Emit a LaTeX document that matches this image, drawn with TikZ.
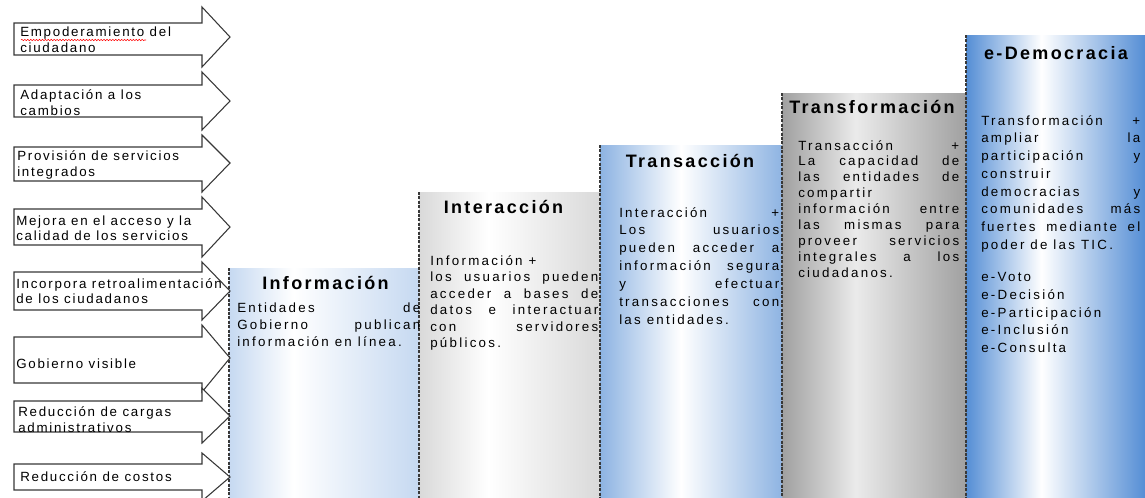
\documentclass[tikz,border=0pt]{standalone}
\usepackage{fontspec}
\setmainfont{Liberation Sans}
\newfontfamily\arrowfont[LetterSpace=13]{Liberation Sans}
\newfontfamily\bodyfont[LetterSpace=17]{Liberation Sans}
\newfontfamily\titlefont[LetterSpace=13]{Liberation Sans}
\usetikzlibrary{decorations.pathmorphing}
\setlength{\parindent}{0pt}
\hyphenpenalty=10000
\exhyphenpenalty=10000
\hbadness=10000

\definecolor{infoblue}{HTML}{C6D9F1}
\definecolor{intergray}{HTML}{D9D9D9}
\definecolor{transblue}{HTML}{8DB3E2}
\definecolor{transfgray}{HTML}{A0A0A0}
\definecolor{demoblue}{HTML}{558ED5}
\definecolor{edgegray}{HTML}{383838}

\pgfdeclarehorizontalshading{infoshade}{100bp}{color(0bp)=(infoblue); color(25bp)=(infoblue); color(42bp)=(white); color(75bp)=(infoblue); color(100bp)=(infoblue)}
\pgfdeclarehorizontalshading{intershade}{100bp}{color(0bp)=(intergray); color(25bp)=(intergray); color(44bp)=(white); color(75bp)=(intergray); color(100bp)=(intergray)}
\pgfdeclarehorizontalshading{transshade}{100bp}{color(0bp)=(transblue); color(25bp)=(transblue); color(47bp)=(white); color(75bp)=(transblue); color(100bp)=(transblue)}
\pgfdeclarehorizontalshading{transfshade}{100bp}{color(0bp)=(transfgray); color(25bp)=(transfgray); color(45bp)=(white!92!black); color(75bp)=(transfgray); color(100bp)=(transfgray)}
\pgfdeclarehorizontalshading{demoshade}{100bp}{color(0bp)=(demoblue); color(25bp)=(demoblue); color(46bp)=(white); color(75bp)=(demoblue); color(100bp)=(demoblue)}

\begin{document}
\begin{tikzpicture}[
    x=0.75pt, y=-0.75pt,
    arrowbox/.style={draw=edgegray, fill=white, line width=0.8pt},
    arrowtxt/.style={anchor=west, inner sep=0pt, align=left, font=\arrowfont\fontsize{10pt}{11.6pt}\selectfont},
    stepcol/.style={anchor=north west, inner sep=0pt, shade, draw=none},
    stepedge/.style={draw=edgegray, line width=0.9pt, dash pattern=on 2.2pt off 1.1pt},
    steptitle/.style={inner sep=0pt, font=\titlefont\bfseries\fontsize{13.5pt}{16pt}\selectfont},
    steptext/.style={anchor=north west, inner sep=0pt, align=justify, font=\bodyfont\fontsize{10pt}{#1}\selectfont}
]
    \useasboundingbox (0,0) rectangle (1145,497);
    \clip (0,0) rectangle (1145,497);

    % Escalones
    \node[stepcol, shading=infoshade, minimum width=141.75pt, minimum height=171.75pt] (infocol) at (229,268) {};
    \node[stepcol, shading=intershade, minimum width=135.75pt, minimum height=228.75pt] (intercol) at (419,192) {};
    \node[stepcol, shading=transshade, minimum width=137.25pt, minimum height=264pt] (transcol) at (600,145) {};
    \node[stepcol, shading=transfshade, minimum width=138pt, minimum height=303pt] (transfcol) at (782,93) {};
    \node[stepcol, shading=demoshade, minimum width=134.25pt, minimum height=346.5pt] (democol) at (966,35) {};

    \draw[stepedge] (infocol.north west) -- (infocol.south west);
    \draw[stepedge] (intercol.north west) -- (intercol.south west);
    \draw[stepedge] (transcol.north west) -- (transcol.south west);
    \draw[stepedge] (transfcol.north west) -- (transfcol.south west);
    \draw[stepedge] (democol.north west) -- (democol.south west);

    % Flechas de beneficios
    \draw[arrowbox] (14,23) -- (202,23) -- (202,7) -- (230,37) -- (202,67) -- (202,55) -- (14,55) -- cycle;
    \draw[arrowbox] (14,85) -- (202,85) -- (202,72) -- (230,101) -- (202,130) -- (202,117) -- (14,117) -- cycle;
    \draw[arrowbox] (14,147) -- (202,147) -- (202,135) -- (230,163) -- (202,192) -- (202,181) -- (14,181) -- cycle;
    \draw[arrowbox] (14,209) -- (202,209) -- (202,197) -- (230,227) -- (202,257) -- (202,245) -- (14,245) -- cycle;
    \draw[arrowbox] (14,272) -- (202,272) -- (202,262) -- (230,291) -- (202,320) -- (202,310) -- (14,310) -- cycle;
    \draw[arrowbox] (14,337) -- (202,337) -- (202,325) -- (230,358) -- (202,392) -- (202,383) -- (14,383) -- cycle;
    \draw[arrowbox] (14,401) -- (202,401) -- (202,388) -- (230,416) -- (202,443) -- (202,432) -- (14,432) -- cycle;
    \draw[arrowbox] (14,464) -- (202,464) -- (202,453) -- (230,477) -- (202,501) -- (202,490) -- (14,490) -- cycle;

    \node[arrowtxt] (emp) at (20,39.5) {Empoderamiento del\\ciudadano};
    \node[arrowtxt] (adap) at (20,102.5) {Adaptación a los\\cambios};
    \node[arrowtxt] (prov) at (17,165) {Provisión de servicios\\integrados};
    \node[arrowtxt] (mej) at (16,228) {Mejora en el acceso y la\\calidad de los servicios};
    \node[arrowtxt] (retro) at (16,291) {Incorpora retroalimentación\\de los ciudadanos};
    \node[arrowtxt] (visible) at (16,364) {Gobierno visible};
    \node[arrowtxt] (cargas) at (18,419.5) {Reducción de cargas\\administrativos};
    \node[arrowtxt] (costos) at (20,477) {Reducción de costos};
    \draw[red, decorate, decoration={snake, amplitude=0.5pt, segment length=2.2pt}] (21,40) -- (146,40);

    % Titulos
    \node[steptitle] (info) at (325.5,283) {Información};
    \node[steptitle] (inter) at (503.5,207) {Interacción};
    \node[steptitle] (trans) at (690,161) {Transacción};
    \node[steptitle] (transf) at (872,107) {Transformación};
    \node[steptitle] (edemo) at (1056,53) {e-Democracia};

    % Textos
    \node[steptext=12.75pt, text width=137.25pt] (infotxt) at (237,303)
        {Entidades de\linebreak Gobierno publican\linebreak información en línea.};
    \node[steptext=12.4pt, text width=126pt] (intertxt) at (430,255)
        {Información +\\los usuarios pueden\linebreak acceder a bases de\linebreak datos e interactuar\linebreak con servidores\linebreak públicos.};
    \node[steptext=13.4pt, text width=120pt] (transtxt) at (619,207)
        {Interacción +\linebreak Los usuarios\linebreak pueden acceder a\linebreak información segura\linebreak y efectuar\linebreak transacciones con\linebreak las entidades.};
    \node[steptext=11.9pt, text width=120.75pt] (transftxt) at (798,140)
        {Transacción +\linebreak La capacidad de\linebreak las entidades de\linebreak compartir\linebreak información entre\linebreak las mismas para\linebreak proveer servicios\linebreak integrales a los\linebreak ciudadanos.};
    \node[steptext=13.3pt, text width=119.25pt] (edemotxt) at (981,115)
        {Transformación +\linebreak ampliar la\linebreak participación y\linebreak construir\linebreak democracias y\linebreak comunidades más\linebreak fuertes mediante el\linebreak poder de las TIC.\par\vspace{11pt}
         e-Voto\\e-Decisión\\e-Participación\\e-Inclusión\\e-Consulta};
\end{tikzpicture}
\end{document}
